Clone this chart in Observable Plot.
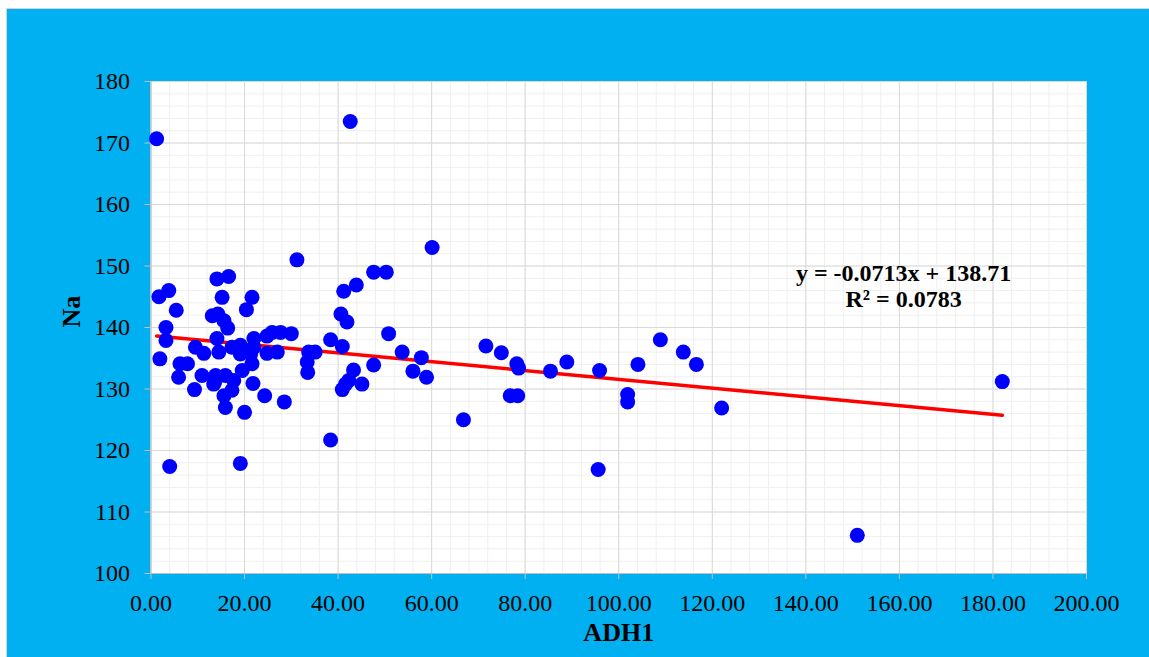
<!DOCTYPE html>
<html><head><meta charset="utf-8">
<script src="https://cdn.jsdelivr.net/npm/d3@7"></script>
<script src="https://cdn.jsdelivr.net/npm/@observablehq/plot@0.6"></script>
<style>
html,body{margin:0;padding:0;background:#fff;width:1149px;height:657px;overflow:hidden;}
#bg{position:absolute;left:6px;top:8px;width:1160px;height:660px;background:#00B0F0;border:1px solid #d4d4d4;}
#chart{position:absolute;left:0;top:0;}
</style></head>
<body><div id="bg"></div><div id="chart"></div>
<script>
const adh1 = [1.2,1.7,3.8,5.4,3.2,3.2,1.9,6.2,7.8,5.9,9.3,9.5,11.3,10.9,14.1,16.6,15.2,13.1,14.3,15.6,16.4,14.1,14.5,13.8,13.4,15.9,17.3,15.6,15.9,20.0,4.0,19.1,17.3,19.1,20.4,21.6,19.5,21.6,21.8,24.3,28.5,22.0,24.8,25.9,27.7,30.0,24.8,27.0,31.2,33.4,33.5,33.7,35.1,38.4,38.4,40.6,41.9,40.9,41.2,43.9,41.6,43.3,45.1,47.6,47.6,50.3,50.8,42.6,40.9,42.3,53.7,57.8,56.0,58.9,60.1,66.8,71.6,74.9,78.2,78.6,76.8,78.4,85.4,88.9,95.9,95.6,101.9,101.9,104.1,108.9,113.8,116.6,122.0,151.0,182.0,17.7,22.0,21.3,19.1,13.6];
const na = [170.7,145.0,146.0,142.8,140.0,137.9,134.9,134.1,134.1,131.9,129.9,136.8,135.8,132.2,147.9,148.3,144.9,141.9,142.2,141.1,139.9,138.2,136.0,132.2,130.8,132.2,129.8,128.9,127.0,126.2,117.4,117.9,136.8,137.1,142.9,144.9,133.0,134.1,130.9,128.9,127.9,138.2,138.6,139.2,139.2,139.0,135.8,136.0,151.0,134.4,132.7,136.0,136.0,138.0,121.7,142.2,140.9,136.9,145.9,146.9,130.8,133.1,130.8,133.9,149.0,149.0,139.0,173.5,129.9,131.4,136.0,135.1,132.9,131.9,153.0,125.0,137.0,135.9,134.1,133.4,128.9,128.9,132.9,134.4,133.0,116.9,129.1,127.9,134.0,138.0,136.0,134.0,126.9,106.2,131.2,131.4,136.8,135.7,135.7,131.1];
const xTicks = [0,20,40,60,80,100,120,140,160,180,200];
const yTicks = [100,110,120,130,140,150,160,170,180];
const trendSlope = -0.0713;
const trendIntercept = 138.71;
const equationLines = ["y = -0.0713x + 138.71", "R² = 0.0783"];
const xTitle = "ADH1";
const yTitle = "Na";

const points = adh1.map((x, i) => ({x, y: na[i]}));
const xExt = d3.extent(adh1);
const trend = xExt.map(x => ({x, y: trendSlope * x + trendIntercept}));
const minorX = d3.range(0, 201, 4);
const minorY = d3.range(100, 181, 2);
const font = "'Liberation Serif', 'Times New Roman', serif";

const chart = Plot.plot({
  width: 1149, height: 657,
  marginLeft: 150.5, marginRight: 63, marginTop: 81, marginBottom: 84,
  style: {background: "transparent", fontFamily: font, fontSize: "24px", color: "#000", overflow: "visible"},
  x: {domain: [0, 200]},
  y: {domain: [100, 180]},
  marks: [
    Plot.frame({fill: "white", stroke: null}),
    Plot.gridX(minorX, {stroke: "#efefef", strokeOpacity: 1, strokeWidth: 1}),
    Plot.gridY(minorY, {stroke: "#efefef", strokeOpacity: 1, strokeWidth: 1}),
    Plot.gridX(xTicks, {stroke: "#d9d9d9", strokeOpacity: 1, strokeWidth: 1}),
    Plot.gridY(yTicks, {stroke: "#d9d9d9", strokeOpacity: 1, strokeWidth: 1}),
    Plot.axisX(xTicks, {tickFormat: d => d.toFixed(2), tickSize: 6, tickPadding: 14, stroke: "#bfbfbf", fill: "#000", fontSize: 24, label: null}),
    Plot.axisY(yTicks, {tickFormat: d => String(d), tickSize: 6, tickPadding: 15, stroke: "#bfbfbf", fill: "#000", fontSize: 24, label: null}),
    Plot.ruleX([0], {stroke: "#bfbfbf"}),
    Plot.ruleY([100], {stroke: "#bfbfbf"}),
    Plot.line(trend, {x: "x", y: "y", stroke: "#FF0000", strokeWidth: 3.5}),
    Plot.dot(points, {x: "x", y: "y", r: 7.5, fill: "#0000FF", stroke: null}),
    Plot.text([equationLines.join("\n")], {x: 160.9, y: 146.8, fontWeight: "bold", fontSize: 24, lineHeight: 1.1, fill: "#000"}),
    Plot.text([xTitle], {frameAnchor: "bottom", dy: 67, fontWeight: "bold", fontSize: 26, fill: "#000"}),
    Plot.text([yTitle], {frameAnchor: "left", dx: -79, rotate: -90, fontWeight: "bold", fontSize: 26, fill: "#000"})
  ]
});
document.getElementById("chart").append(chart);
</script>
</body></html>
